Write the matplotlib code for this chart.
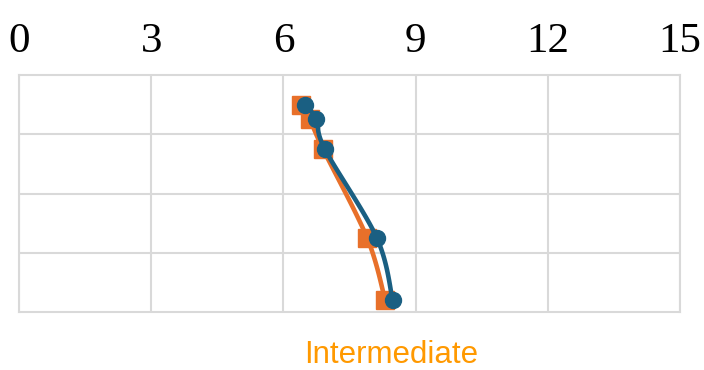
import numpy as np
import matplotlib
matplotlib.use("Agg")
import matplotlib.pyplot as plt

# Data
x_ticks = [0, 3, 6, 9, 12, 15]
levels = [0.5, 0.75, 1.25, 2.75, 3.8]
series_a = [6.40, 6.60, 6.90, 7.90, 8.31]   # orange squares
series_b = [6.49, 6.75, 6.94, 8.12, 8.48]   # blue circles
title = "Intermediate"

ORANGE = "#E8702A"
BLUE = "#1A5F82"
GRID = "#D9D9D9"


def smooth(xs, ys, n=30, tension=1 / 6):
    """Cubic Bezier smoothing through the given points (Catmull-Rom style)."""
    pts = np.column_stack([xs, ys]).astype(float)
    out = [pts[0]]
    for i in range(len(pts) - 1):
        p0 = pts[i - 1] if i > 0 else pts[i]
        p1 = pts[i]
        p2 = pts[i + 1]
        p3 = pts[i + 2] if i + 2 < len(pts) else pts[i + 1]
        c1 = p1 + (p2 - p0) * tension
        c2 = p2 - (p3 - p1) * tension
        t = np.linspace(0, 1, n)[1:, None]
        seg = ((1 - t) ** 3) * p1 + 3 * ((1 - t) ** 2) * t * c1 + 3 * (1 - t) * t ** 2 * c2 + t ** 3 * p2
        out.extend(seg)
    out = np.array(out)
    return out[:, 0], out[:, 1]


fig = plt.figure(figsize=(7.04, 3.70), dpi=100)
ax = fig.add_axes([19 / 704, 1 - 312 / 370, (680 - 19) / 704, (312 - 75) / 370])

ax.set_xlim(0, 15)
ax.set_ylim(4, 0)
ax.set_xticks(x_ticks)
ax.set_yticks([1, 2, 3])
ax.xaxis.tick_top()
ax.tick_params(axis="x", length=0, pad=10, labelsize=31)
ax.tick_params(axis="y", length=0, labelleft=False)
for lab in ax.get_xticklabels():
    lab.set_fontfamily("Liberation Serif")
ax.grid(True, color=GRID, linewidth=1.5)
ax.set_axisbelow(True)
for sp in ax.spines.values():
    sp.set_color(GRID)
    sp.set_linewidth(1.5)

sx, sy = smooth(series_a, levels)
ax.plot(sx, sy, color=ORANGE, linewidth=3.3, solid_capstyle="round", zorder=3)
ax.plot(series_a, levels, linestyle="none", marker="s", markersize=13.5,
        color=ORANGE, zorder=4)

sx, sy = smooth(series_b, levels)
ax.plot(sx, sy, color=BLUE, linewidth=3.3, solid_capstyle="round", zorder=5)
ax.plot(series_b, levels, linestyle="none", marker="o", markersize=11.5,
        color=BLUE, zorder=6)

fig.text(391 / 704, 1 - 355 / 370, title, color="#FF9900", fontsize=22.5,
         fontfamily="Liberation Sans", ha="center", va="center")

fig.savefig("out.png", dpi=100)
